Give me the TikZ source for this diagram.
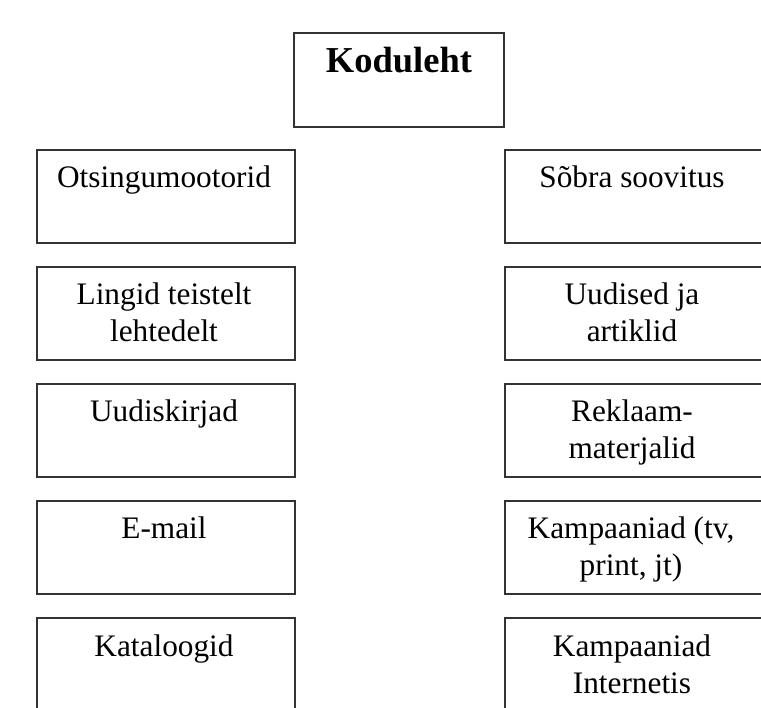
\documentclass[tikz,border=0pt]{standalone}
\usepackage{fontspec}
\setmainfont{Liberation Serif}
\begin{document}
\begin{tikzpicture}[x=1pt,y=-1pt,
  box/.style={draw=black!80, line width=2pt, minimum width=258pt, minimum height=93pt, anchor=north west, inner sep=0pt, outer sep=0pt},
  lbl/.style={font=\fontsize{31.3}{37}\selectfont, align=center, anchor=base, inner sep=0pt}]
\useasboundingbox (0,0) rectangle (761,708);
\clip (0,0) rectangle (761,708);
\fill[white] (0,0) rectangle (761,708);
% top box
\node[box, minimum width=210pt, minimum height=94pt] (top) at (294,33) {};
\node[lbl, font=\bfseries\fontsize{36.5}{40}\selectfont] (tl) at (399,73) {Koduleht};
% left column
\node[box] (l1) at (37,150) {};
\node[box] (l2) at (37,267) {};
\node[box] (l3) at (37,384) {};
\node[box] (l4) at (37,501) {};
\node[box] (l5) at (37,618) {};
% right column
\node[box] (r1) at (505,150) {};
\node[box] (r2) at (505,267) {};
\node[box] (r3) at (505,384) {};
\node[box] (r4) at (505,501) {};
\node[box] (r5) at (505,618) {};
% labels (base anchor = baseline of last line)
\node[lbl] (tl1) at (164,188) {Otsingumootorid};
\node[lbl] (tl2) at (164,342) {Lingid teistelt\\lehtedelt};
\node[lbl] (tl3) at (164,422) {Uudiskirjad};
\node[lbl] (tl4) at (164,539) {E-mail};
\node[lbl] (tl5) at (164,656) {Kataloogid};
\node[lbl] (tr1) at (632,188) {Sõbra soovitus};
\node[lbl] (tr2) at (632,342) {Uudised ja\\artiklid};
\node[lbl] (tr3) at (632,459) {Reklaam-\\materjalid};
\node[lbl] (tr4) at (631,576) {Kampaaniad (tv,\\print, jt)};
\node[lbl] (tr5) at (632,693) {Kampaaniad\\Internetis};
\end{tikzpicture}
\end{document}
